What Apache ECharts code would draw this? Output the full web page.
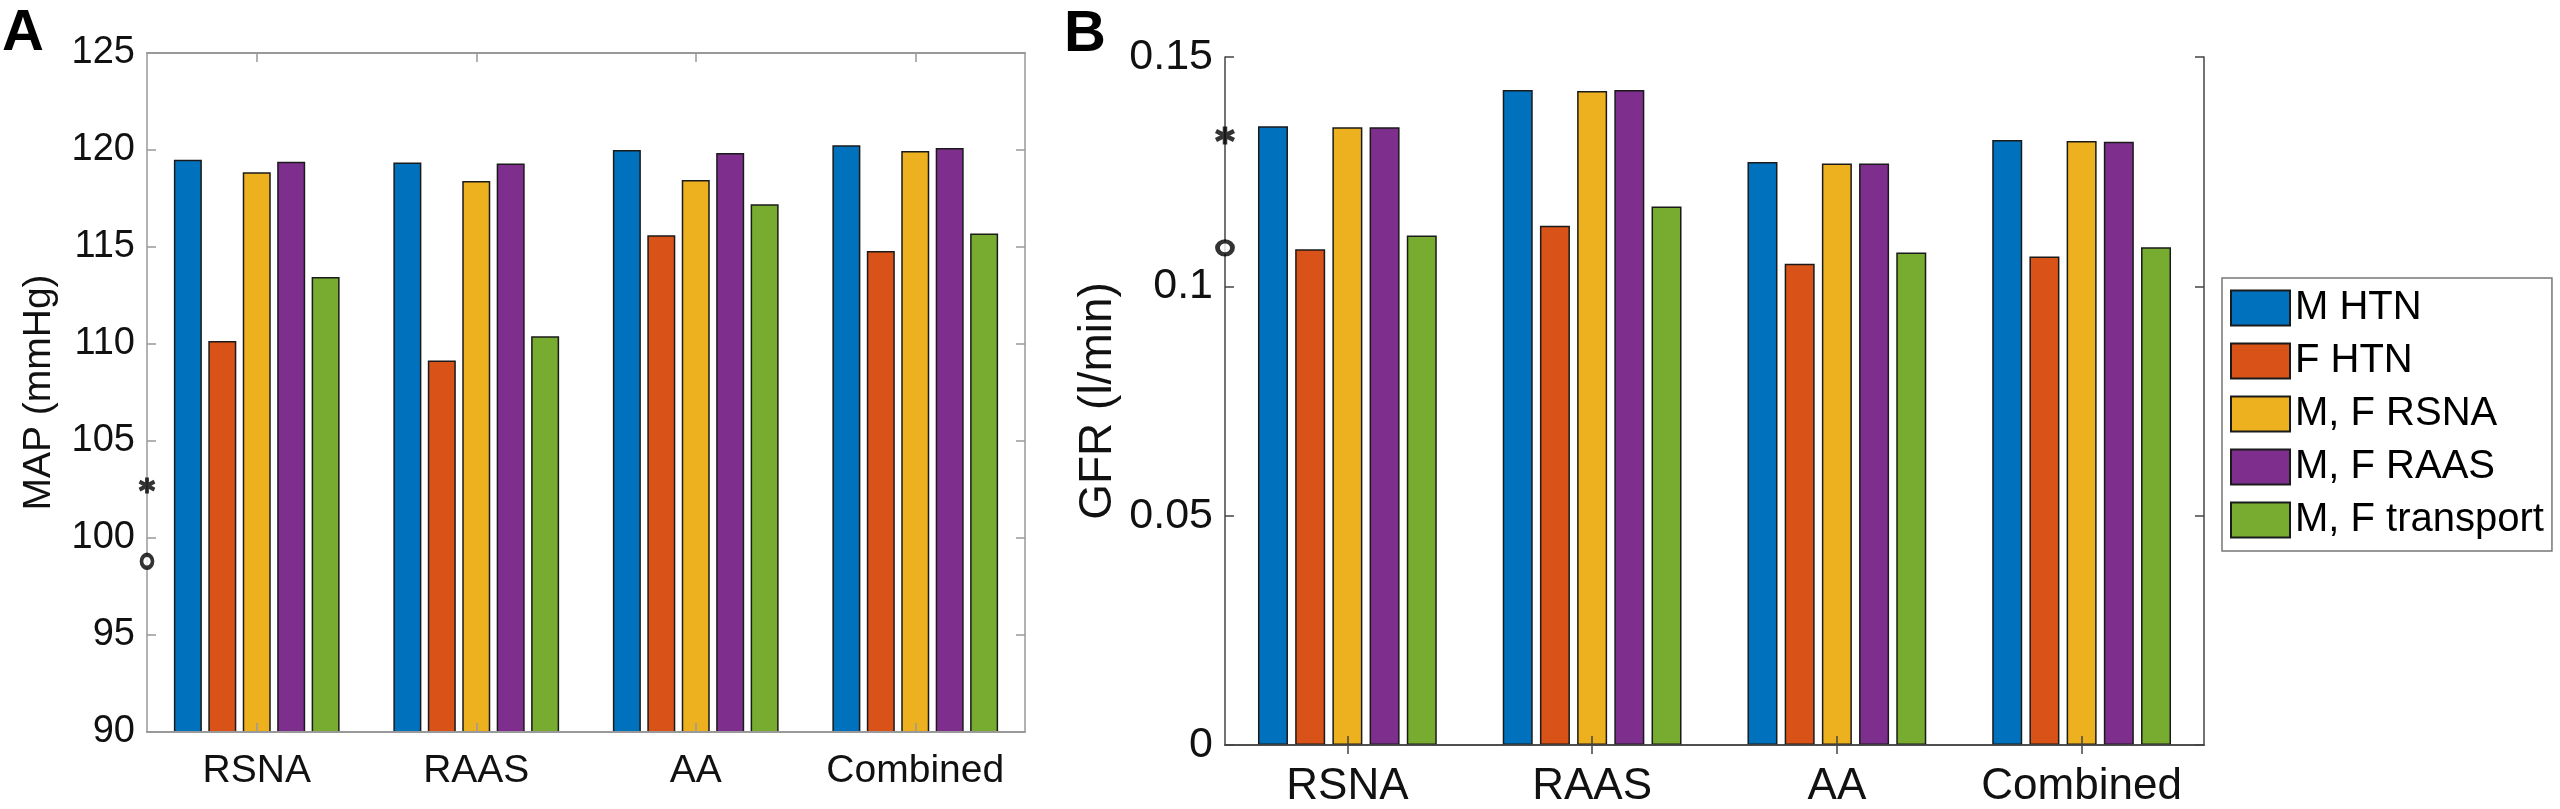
<!DOCTYPE html>
<html>
<head>
<meta charset="utf-8">
<script src="https://cdn.jsdelivr.net/npm/echarts@6/dist/echarts.min.js"></script>
<style>
  html, body { margin: 0; padding: 0; background: #fff; }
  #chart { width: 2560px; height: 809px; }
</style>
</head>
<body>
<div id="chart"></div>
<script>
// categories and series
const categories = ['RSNA', 'RAAS', 'AA', 'Combined'];
const seriesNames = ['M HTN', 'F HTN', 'M, F RSNA', 'M, F RAAS', 'M, F transport'];
const seriesColors = ['#0072BD', '#D95319', '#EDB120', '#7E2F8E', '#77AC30'];

// panel A: MAP (mmHg)
const mapMHTN = [119.5, 119.35, 120.0, 120.25];
const mapFHTN = [110.15, 109.15, 115.6, 114.8];
const mapRSNA = [118.85, 118.4, 118.45, 119.95];
const mapRAAS = [119.4, 119.3, 119.85, 120.1];
const mapTransport = [113.45, 110.4, 117.2, 115.7];
const mapStar = 102.7;
const mapCircle = 98.8;
const mapTicks = { min: 90, max: 125, interval: 5 };

// panel B: GFR (l/min)
const gfrMHTN = [0.1349, 0.1428, 0.1271, 0.1319];
const gfrFHTN = [0.1081, 0.1132, 0.1049, 0.1065];
const gfrRSNA = [0.1347, 0.1426, 0.1268, 0.1317];
const gfrRAAS = [0.1347, 0.1428, 0.1268, 0.1315];
const gfrTransport = [0.1111, 0.1174, 0.1074, 0.1085];
const gfrStar = 0.1329;
const gfrCircle = 0.1084;
const gfrTicks = { min: 0, max: 0.15, interval: 0.05 };

const mapSets = [mapMHTN, mapFHTN, mapRSNA, mapRAAS, mapTransport];
const gfrSets = [gfrMHTN, gfrFHTN, gfrRSNA, gfrRAAS, gfrTransport];

const FONT = 'Liberation Sans, Arial, Helvetica, sans-serif';
const STAR = 'path://M10 0L10 20M1.34 5L18.66 15M1.34 15L18.66 5';

function catAxis(grid, pos, showLabel, fs, lineColor, lineW) {
    return {
        type: 'category', gridIndex: grid, position: pos, data: categories, z: 5,
        axisLine: { show: true, lineStyle: { color: lineColor, width: lineW } },
        axisTick: { show: true, inside: true, alignWithLabel: true, interval: 0, length: 9, lineStyle: { color: lineColor, width: 1.5 } },
        axisLabel: { show: showLabel, interval: 0, color: '#111', fontSize: fs, margin: 20, fontFamily: FONT },
        splitLine: { show: false }
    };
}

function valAxis(grid, pos, ticks, showLabel, fs, lineColor, lineW, name, nameFs, nameGap) {
    return {
        type: 'value', gridIndex: grid, position: pos, z: 5,
        min: ticks.min, max: ticks.max, interval: ticks.interval,
        name: name, nameLocation: 'middle', nameGap: nameGap, nameRotate: 90,
        nameTextStyle: { fontSize: nameFs, color: '#111', fontFamily: FONT },
        axisLine: { show: true, lineStyle: { color: lineColor, width: lineW } },
        axisTick: { show: true, inside: true, length: 9, lineStyle: { color: lineColor, width: 1.5 } },
        axisLabel: { show: showLabel, color: '#111', fontSize: fs, margin: 12, fontFamily: FONT },
        splitLine: { show: false }
    };
}

function markerAxis(grid) {
    return { type: 'value', gridIndex: grid, min: 0, max: 1, show: false };
}

const series = [];
mapSets.forEach((vals, i) => {
    series.push({
        name: seriesNames[i], type: 'bar', xAxisIndex: 0, yAxisIndex: 0,
        data: vals, barWidth: 28, barGap: '23%',
        itemStyle: { color: seriesColors[i], borderColor: '#1a1a1a', borderWidth: 1.5 }
    });
});
gfrSets.forEach((vals, i) => {
    series.push({
        name: seriesNames[i], type: 'bar', xAxisIndex: 2, yAxisIndex: 2,
        data: vals, barWidth: 30, barGap: '24%',
        itemStyle: { color: seriesColors[i], borderColor: '#1a1a1a', borderWidth: 1.5 }
    });
});

// experimental data markers on the y axes
series.push(
    { type: 'scatter', xAxisIndex: 4, yAxisIndex: 0, clip: false, z: 10, symbol: STAR, symbolSize: [15, 16],
      data: [[0, mapStar]], itemStyle: { color: 'transparent', borderColor: '#000', borderWidth: 4 } },
    { type: 'scatter', xAxisIndex: 4, yAxisIndex: 0, clip: false, z: 10, symbol: 'circle', symbolSize: [11, 13],
      data: [[0, mapCircle]], itemStyle: { color: '#fff', borderColor: '#000', borderWidth: 4 } },
    { type: 'scatter', xAxisIndex: 5, yAxisIndex: 2, clip: false, z: 10, symbol: STAR, symbolSize: [18, 18],
      data: [[0, gfrStar]], itemStyle: { color: 'transparent', borderColor: '#000', borderWidth: 4.5 } },
    { type: 'scatter', xAxisIndex: 5, yAxisIndex: 2, clip: false, z: 10, symbol: 'circle', symbolSize: [15, 13],
      data: [[0, gfrCircle]], itemStyle: { color: '#fff', borderColor: '#000', borderWidth: 4.5 } }
);

const chart = echarts.init(document.getElementById('chart'));
chart.setOption({
    animation: false,
    backgroundColor: '#fff',
    textStyle: { fontFamily: FONT },
    grid: [
        { left: 147, top: 53, width: 878, height: 679 },
        { left: 1225, top: 57, width: 979, height: 691 }
    ],
    xAxis: [
        catAxis(0, 'bottom', true, 39, '#999', 2),
        catAxis(0, 'top', false, 39, '#999', 2),
        catAxis(1, 'bottom', true, 44, '#444', 1.5),
        catAxis(1, 'top', false, 44, '#444', 1.5),
        markerAxis(0),
        markerAxis(1)
    ],
    yAxis: [
        valAxis(0, 'left', mapTicks, true, 38, '#999', 1.5, 'MAP (mmHg)', 39, 88),
        valAxis(0, 'right', mapTicks, false, 38, '#999', 1.5, '', 39, 0),
        valAxis(1, 'left', gfrTicks, true, 43, '#444', 1.5, 'GFR (l/min)', 46, 104),
        valAxis(1, 'right', gfrTicks, false, 43, '#444', 1.5, '', 46, 0)
    ],
    legend: {
        data: seriesNames, orient: 'vertical', left: 2222, top: 278,
        icon: 'rect', itemWidth: 59, itemHeight: 35, itemGap: 13,
        padding: [10, 8, 11, 8], borderColor: '#777', borderWidth: 1.5,
        selectedMode: false,
        textStyle: { fontSize: 40, color: '#000', lineHeight: 35, fontFamily: FONT }
    },
    graphic: [
        { type: 'text', x: 2, y: 34, style: { text: 'A', font: 'bold 58px Liberation Sans', fill: '#000', verticalAlign: 'middle' } },
        { type: 'text', x: 1064, y: 35, style: { text: 'B', font: 'bold 58px Liberation Sans', fill: '#000', verticalAlign: 'middle' } }
    ],
    series: series
});
</script>
</body>
</html>
